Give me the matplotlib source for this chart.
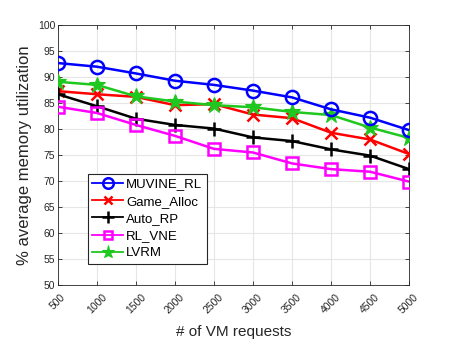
import matplotlib
matplotlib.use("Agg")
import matplotlib.pyplot as plt

requests = [500, 1000, 1500, 2000, 2500, 3000, 3500, 4000, 4500, 5000]
muvine_rl = [92.7, 92.0, 90.7, 89.3, 88.5, 87.4, 86.1, 83.8, 82.2, 79.8]
game_alloc = [87.3, 86.7, 86.2, 84.6, 84.8, 82.8, 82.1, 79.3, 78.0, 75.2]
auto_rp = [86.7, 84.4, 82.0, 80.8, 80.1, 78.4, 77.7, 76.1, 74.9, 72.3]
rl_vne = [84.3, 83.1, 80.8, 78.7, 76.2, 75.5, 73.4, 72.3, 71.8, 69.9]
lvrm = [89.1, 88.5, 86.3, 85.3, 84.6, 84.2, 83.3, 82.7, 80.3, 78.3]
y_ticks = list(range(50, 101, 5))

plt.rcParams['font.family'] = ['Liberation Sans', 'DejaVu Sans']

fig = plt.figure(figsize=(4.52, 3.39), dpi=100)
ax = fig.add_axes([0.128, 0.159, 0.777, 0.767])

lw = 1.8
ax.plot(requests, muvine_rl, color='#0000ff', lw=lw, marker='o', ms=9.5,
        mfc='none', mew=1.8, label='MUVINE_RL', zorder=5)
ax.plot(requests, game_alloc, color='#ff0000', lw=lw, marker='x', ms=8,
        mew=1.8, label='Game_Alloc', zorder=4)
ax.plot(requests, auto_rp, color='black', lw=lw, marker='+', ms=10,
        mew=1.8, label='Auto_RP', zorder=4)
ax.plot(requests, rl_vne, color='#ff00ff', lw=lw, marker='s', ms=8,
        mfc='none', mew=1.8, label='RL_VNE', zorder=4)
ax.plot(requests, lvrm, color='#1ec81e', lw=lw, marker='*', ms=12,
        mfc='#1ec81e', mew=0.8, label='LVRM', zorder=4)

ax.set_xlim(500, 5000)
ax.set_ylim(50, 100)
ax.set_xticks(requests)
ax.set_xticklabels([str(r) for r in requests], rotation=45, fontsize=7.5)
ax.set_yticks(y_ticks)
ax.set_yticklabels([str(t) for t in y_ticks], fontsize=7.5)
ax.tick_params(direction='in', top=True, right=True, length=3,
               colors='#262626', width=0.6)
ax.tick_params(axis='y', pad=2)
ax.tick_params(axis='x', pad=5)
for lbl in ax.get_xticklabels():
    lbl.set_ha('center')
    lbl.set_va('top')
ax.grid(True, color='#e6e6e6', lw=0.8)
ax.set_axisbelow(True)
for s in ax.spines.values():
    s.set_color('#262626')
    s.set_linewidth(0.6)

ax.set_xlabel('# of VM requests', fontsize=11, color='#262626', labelpad=7)
ax.set_ylabel('% average memory utilization', fontsize=12, color='#262626', labelpad=4)

leg = ax.legend(loc='lower left', bbox_to_anchor=(0.085, 0.081), fontsize=9.5,
                fancybox=False, framealpha=1, edgecolor='#262626',
                borderpad=0.35, labelspacing=0.38, handlelength=2.3,
                handletextpad=0.25, borderaxespad=0, markerscale=0.8)
leg.get_frame().set_linewidth(0.8)
for h in leg.get_lines():
    h.set_linewidth(1.3)

fig.savefig('out.png', dpi=100)
